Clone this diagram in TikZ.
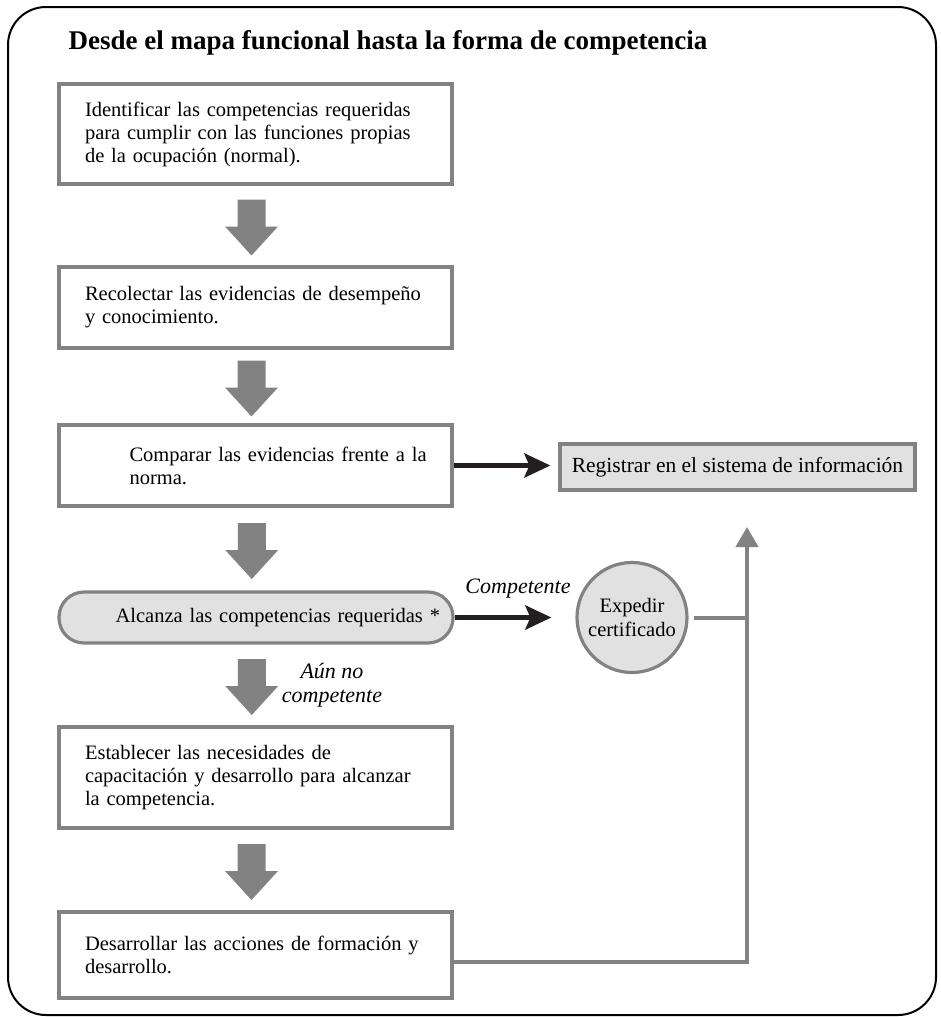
\documentclass[tikz,border=0pt]{standalone}
\usepackage{fontspec}
\setmainfont{Liberation Serif}
\usepackage{tikz}
\usetikzlibrary{arrows.meta, positioning, calc}
\definecolor{boxgray}{RGB}{130,130,130}
\definecolor{fillgray}{RGB}{225,225,225}
\definecolor{arrowblack}{RGB}{35,31,32}

\tikzset{
  stepbox/.style={draw=boxgray, line width=3.2pt, fill=white, minimum width=393pt,
    align=left, font={\fontsize{20.5}{23}\selectfont}},
  flushbox/.style={stepbox, text width=341pt, inner xsep=26pt},
  pillbox/.style={draw=boxgray, line width=3.2pt, fill=fillgray, rounded corners=25pt,
    minimum width=394pt, minimum height=51pt, text width=368pt, inner xsep=13pt,
    align=right, font={\fontsize{20.5}{23}\selectfont}},
  regbox/.style={draw=boxgray, line width=3.2pt, fill=fillgray, minimum width=355pt,
    minimum height=46pt, font={\fontsize{21.5}{24}\selectfont}},
  certnode/.style={circle, draw=boxgray, line width=3.2pt, fill=fillgray, minimum size=110pt,
    inner sep=0pt, align=center, font={\fontsize{20.5}{24}\selectfont}},
  labeltext/.style={font={\fontsize{22}{24}\selectfont\itshape}},
  blackarrow/.style={draw=arrowblack, line width=5pt,
    -{Stealth[length=26pt, width=24pt, inset=5pt]}},
  grayline/.style={draw=boxgray, line width=4pt}
}

\begin{document}
\begin{tikzpicture}[x=1pt, y=-1pt]
  \useasboundingbox (0,0) rectangle (940,1017);
  \draw[line width=2pt, rounded corners=38pt] (8,7) rectangle (936,1015);
  \node[anchor=west, font={\fontsize{27}{30}\selectfont\bfseries}] (title) at (65,43)
    {Desde el mapa funcional hasta la forma de competencia};

  % pasos
  \node[flushbox, minimum height=100pt] (ident) at (255.5,134)
    {Identificar las competencias requeridas\\para cumplir con las funciones propias\\de la ocupación (normal).};
  \node[flushbox, minimum height=81pt] (recol) at (255.5,307.5)
    {Recolectar las evidencias de desempeño\\y conocimiento.};
  \node[stepbox, text width=360pt, inner xsep=16.5pt, minimum height=81pt] (compar) at (255.5,465.5)
    {{\leftskip=54pt Comparar las evidencias frente a la\newline norma.\par}};
  \node[pillbox] (alcanza) at (256,617.5) {Alcanza las competencias requeridas *};
  \node[flushbox, minimum height=101pt] (establ) at (255.5,777.5)
    {Establecer las necesidades de\\capacitación y desarrollo para alcanzar\\la competencia.};
  \node[flushbox, minimum height=86pt] (desarr) at (255.5,955)
    {Desarrollar las acciones de formación y\\desarrollo.};

  \node[regbox] (reg) at (737.5,467) {Registrar en el sistema de información};
  \node[certnode] (cert) at (632,617.5) {Expedir\\certificado};
  \coordinate (regtip) at (747,527);

  % flechas grises
  \foreach \a/\b in {ident/recol, recol/compar, compar/alcanza, alcanza/establ, establ/desarr}{
    \coordinate (mid) at ($(\a.south)!0.5!(\b.north)+(-4,2)$);
    \fill[boxgray] ($(mid)+(-14,-28)$) -- ++(28,0) -- ++(0,27) -- ++(12.5,0)
      -- ($(mid)+(0,28)$) -- ($(mid)+(-26.5,-1)$) -- ++(12.5,0) -- cycle;
  }

  \draw[blackarrow, shorten >=8pt] (compar.east) -- (compar.east -| reg.west);
  \draw[blackarrow, shorten >=24pt] (alcanza.east) -- (cert.west);
  \node[labeltext] (comp) at (518,589) {Competente};
  \node[labeltext, align=center] (aun) at (332,685) {Aún no\\competente};

  \draw[grayline, shorten <=5pt] (cert.east) -- (cert.east -| regtip);
  \draw[grayline, -{Triangle[length=20pt, width=22pt]}]
    ([yshift=-7pt]desarr.east) -- ([yshift=-7pt]desarr.east -| regtip) -- (regtip);
\end{tikzpicture}
\end{document}
